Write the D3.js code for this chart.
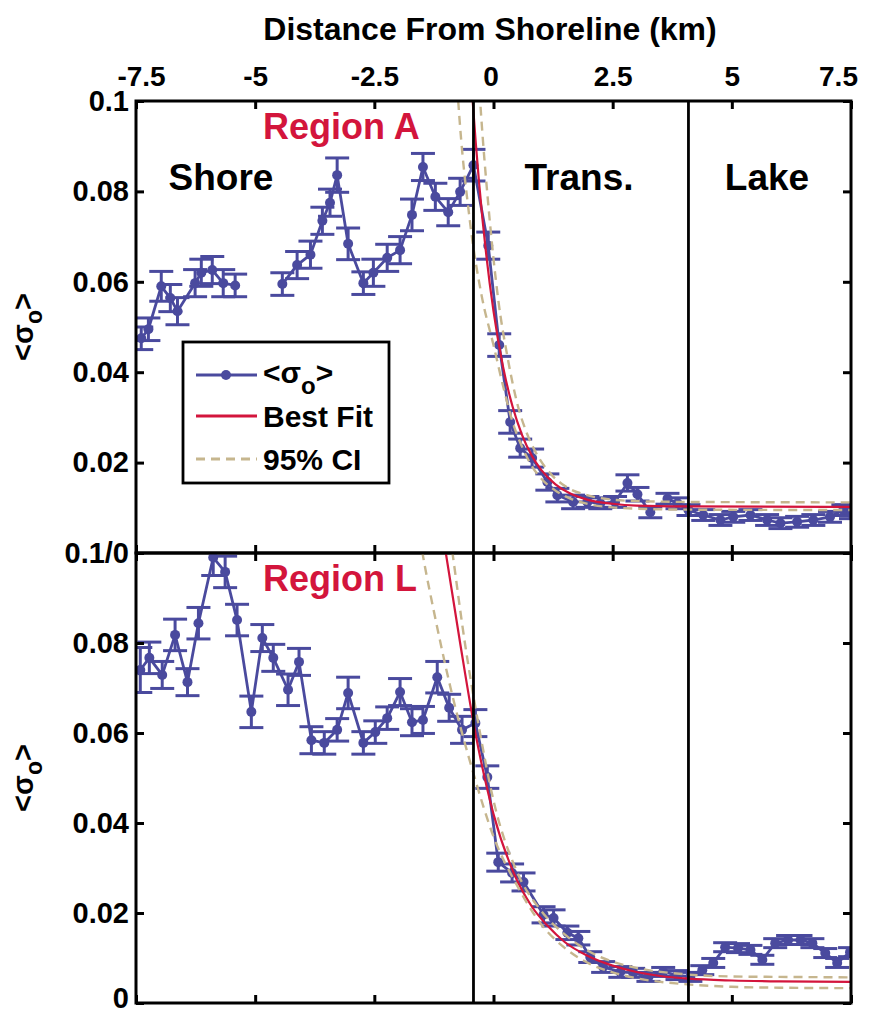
<!DOCTYPE html>
<html>
<head>
<meta charset="utf-8">
<script src="https://cdn.jsdelivr.net/npm/d3@7"></script>
<style>
  body { margin: 0; background: #fff; }
  svg text { font-family: "Liberation Sans", Arial, sans-serif; font-weight: bold; }
</style>
</head>
<body>
<svg id="chart" width="870" height="1017"></svg>
<script>
// ------------------------------------------
//  Data
// ------------------------------------------
const xTicks = [-7.5, -5, -2.5, 0, 2.5, 5, 7.5]
const yTicks = [0, 0.02, 0.04, 0.06, 0.08, 0.1]
const boundaries = [-0.42, 4.09]
const zones = ['Shore', 'Trans.', 'Lake']

// Region A
const distA = [-7.39, -7.24, -6.97, -6.78, -6.63, -6.26, -6.13, -5.90, -5.67, -5.42,
  -4.9, -4.43, -4.12, -3.84, -3.59, -3.43, -3.28, -3.05, -2.73, -2.52,
  -2.23, -1.96, -1.71, -1.48, -1.22, -0.95, -0.70, -0.42, -0.11, 0.12,
  0.35, 0.56, 0.81, 1.13, 1.34, 1.67, 1.97, 2.24, 2.55, 2.81,
  3.02, 3.29, 3.65, 3.86, 4.09, 4.40, 4.76, 5.03, 5.39, 5.74,
  6.02, 6.37, 6.71, 7.06, 7.34, 7.5]
const sigmaA = [0.0475, 0.0495, 0.0590, 0.0564, 0.0535, 0.0597, 0.0620, 0.0626, 0.0597, 0.0592,
  null, 0.0595, 0.0637, 0.0660, 0.0735, 0.0775, 0.0836, 0.0684, 0.0597, 0.0620,
  0.0653, 0.0670, 0.0748, 0.0854, 0.0788, 0.0754, 0.0799, 0.0858, 0.0680, 0.0460,
  0.0290, 0.0232, 0.0210, 0.0157, 0.0128, 0.0113, 0.0113, 0.0110, 0.0113, 0.0155,
  0.0130, 0.0090, 0.0120, 0.0110, 0.0095, 0.0084, 0.0073, 0.0080, 0.0084, 0.0073,
  0.0066, 0.0069, 0.0073, 0.0080, 0.0095, 0.0088]
const errA = [0.0025, 0.0025, 0.0033, 0.003, 0.003, 0.003, 0.003, 0.003, 0.003, 0.0025,
  0, 0.0025, 0.003, 0.003, 0.003, 0.003, 0.0038, 0.0035, 0.0025, 0.003,
  0.003, 0.003, 0.0035, 0.003, 0.003, 0.003, 0.003, 0.0035, 0.003, 0.0025,
  0.0025, 0.002, 0.002, 0.0018, 0.0015, 0.0015, 0.0012, 0.0012, 0.0012, 0.0018,
  0.0015, 0.0012, 0.0012, 0.0012, 0.0012, 0.0012, 0.0012, 0.0012, 0.0012, 0.0012,
  0.0012, 0.0012, 0.0012, 0.0012, 0.0012, 0.0012]
const fitA = [[-0.55, 0.119], [-0.45, 0.102], [-0.3, 0.0816], [-0.15, 0.0658], [0, 0.0535],
  [0.2, 0.0412], [0.4, 0.0324], [0.6, 0.0261], [0.8, 0.0216], [1.0, 0.0184], [1.3, 0.0152],
  [1.6, 0.0132], [2.0, 0.0117], [2.5, 0.0109], [3.0, 0.0105], [4.0, 0.0103], [7.5, 0.0102]]
const ciLowA = [[-0.8, 0.11], [-0.74, 0.1], [-0.49, 0.073], [-0.25, 0.057], [0, 0.046],
  [0.2, 0.037], [0.4, 0.029], [0.6, 0.0235], [0.8, 0.0193], [1.0, 0.0165], [1.3, 0.0138],
  [1.6, 0.0121], [2.0, 0.0108], [2.5, 0.0101], [3.0, 0.0098], [4.0, 0.0096], [7.5, 0.0095]]
const ciHighA = [[-0.35, 0.112], [-0.28, 0.1], [-0.1, 0.076], [0.1, 0.056], [0.3, 0.043],
  [0.5, 0.033], [0.7, 0.0265], [0.9, 0.022], [1.2, 0.0175], [1.5, 0.0148], [2.0, 0.0127],
  [2.5, 0.0118], [3.0, 0.0115], [4.0, 0.0113], [7.5, 0.0112]]

// Region L
const distL = [-7.41, -7.22, -6.95, -6.68, -6.42, -6.19, -5.88, -5.63, -5.38, -5.08,
  -4.85, -4.62, -4.31, -4.08, -3.82, -3.55, -3.28, -3.05, -2.73, -2.48,
  -2.23, -1.96, -1.71, -1.48, -1.18, -0.93, -0.66, -0.38, -0.13, 0.10,
  0.39, 0.63, 1.05, 1.26, 1.55, 1.78, 2.03, 2.30, 2.66, 2.93,
  3.25, 3.56, 3.86, 4.13, 4.38, 4.61, 4.86, 5.13, 5.39, 5.64,
  5.91, 6.18, 6.44, 6.69, 6.96, 7.21, 7.48]
const sigmaL = [0.0740, 0.0767, 0.0729, 0.0818, 0.0713, 0.0844, 0.0990, 0.0958, 0.0851, 0.0647,
  0.0811, 0.0767, 0.0696, 0.0758, 0.0584, 0.0578, 0.0607, 0.0689, 0.0578, 0.0602,
  0.0633, 0.0691, 0.0624, 0.0629, 0.0724, 0.0656, 0.0607, 0.0622, 0.0502, 0.0313,
  0.0289, 0.0269, 0.0196, 0.0189, 0.0156, 0.0144, 0.0102, 0.0080, 0.0069, 0.0067,
  0.0058, 0.0069, 0.0062, 0.0058, 0.0073, 0.0089, 0.0124, 0.0122, 0.0118, 0.0096,
  0.0133, 0.0140, 0.0140, 0.0133, 0.0111, 0.0089, 0.0113]
const errL = [0.005, 0.0035, 0.003, 0.0035, 0.003, 0.0035, 0.004, 0.0035, 0.0035, 0.0035,
  0.003, 0.003, 0.0035, 0.003, 0.003, 0.0025, 0.0025, 0.0035, 0.0025, 0.0025,
  0.0025, 0.003, 0.003, 0.003, 0.0035, 0.003, 0.003, 0.003, 0.0025, 0.002,
  0.002, 0.002, 0.0018, 0.0018, 0.0015, 0.0015, 0.0012, 0.0012, 0.0012, 0.001,
  0.001, 0.001, 0.001, 0.001, 0.001, 0.001, 0.001, 0.001, 0.001, 0.001,
  0.001, 0.001, 0.001, 0.001, 0.001, 0.001, 0.001]
const fitL = [[-1.1, 0.107], [-1.0, 0.1], [-0.7, 0.08], [-0.38, 0.06], [0, 0.042], [0.42, 0.029],
  [0.8, 0.0215], [1.13, 0.0172], [1.5, 0.0135], [1.97, 0.0105], [2.5, 0.0083], [3.0, 0.0069],
  [3.5, 0.006], [4.1, 0.0054], [5.0, 0.005], [6.0, 0.0048], [7.5, 0.0047]]
const ciLowL = [[-1.6, 0.107], [-1.49, 0.1], [-1.25, 0.087], [-0.9, 0.07], [-0.42, 0.051],
  [0, 0.037], [0.5, 0.026], [1.0, 0.0175], [1.5, 0.0122], [2.0, 0.0088], [2.5, 0.0068],
  [3.0, 0.0055], [4.0, 0.0042], [5.0, 0.0036], [6.0, 0.0034], [7.5, 0.0033]]
const ciHighL = [[-0.95, 0.107], [-0.86, 0.1], [-0.6, 0.08], [-0.3, 0.061], [0, 0.045],
  [0.5, 0.029], [1.0, 0.0205], [1.5, 0.0152], [2.0, 0.0115], [2.5, 0.0092], [3.0, 0.0078],
  [4.0, 0.0064], [5.0, 0.0059], [6.0, 0.0058], [7.5, 0.0057]]

// ------------------------------------------
//  Layout / style
// ------------------------------------------
const BLUE = '#4a4a9e', RED = '#d3153c', TAN = '#c6b68e'
const svg = d3.select('#chart')
const left = 136, right = 851
const x = d3.scaleLinear().domain([-7.5, 7.5]).range([left, right])

const panels = [
  { id: 'A', top: 101, bottom: 553, dist: distA, sigma: sigmaA, err: errA,
    fit: fitA, ciLow: ciLowA, ciHigh: ciHighA, label: 'Region A',
    yFmt: d => d === 0 ? '' : (d === 0.1 ? '0.1' : d3.format('.2f')(d)) },
  { id: 'L', top: 553, bottom: 1003, dist: distL, sigma: sigmaL, err: errL,
    fit: fitL, ciLow: ciLowL, ciHigh: ciHighL, label: 'Region L',
    yFmt: d => d === 0 ? '0' : (d === 0.1 ? '0.1/0' : d3.format('.2f')(d)) }
]

// ------------------------------------------
//  Panel
// ------------------------------------------
function drawPanel(p, i) {
  const y = d3.scaleLinear().domain([0, 0.1]).range([p.bottom, p.top])
  const g = svg.append('g')

  g.append('clipPath').attr('id', 'clip' + p.id)
    .append('rect')
    .attr('x', left).attr('y', p.top)
    .attr('width', right - left).attr('height', p.bottom - p.top)

  const plot = g.append('g').attr('clip-path', `url(#clip${p.id})`)

  const pts = p.dist.map((d, k) => ({ x: d, y: p.sigma[k], e: p.err[k] }))

  // data line
  plot.append('path')
    .datum(pts)
    .attr('fill', 'none')
    .attr('stroke', BLUE)
    .attr('stroke-width', 2.8)
    .attr('d', d3.line().defined(d => d.y != null).x(d => x(d.x)).y(d => y(d.y)))

  // error bars
  const eb = plot.selectAll('.eb').data(pts.filter(d => d.y != null))
    .enter().append('g').attr('class', 'eb')
    .attr('stroke', BLUE).attr('stroke-width', 3)
  eb.append('line')
    .attr('x1', d => x(d.x)).attr('x2', d => x(d.x))
    .attr('y1', d => y(d.y - d.e)).attr('y2', d => y(d.y + d.e))
  eb.append('line')
    .attr('x1', d => x(d.x) - 12).attr('x2', d => x(d.x) + 12)
    .attr('y1', d => y(d.y - d.e)).attr('y2', d => y(d.y - d.e))
  eb.append('line')
    .attr('x1', d => x(d.x) - 12).attr('x2', d => x(d.x) + 12)
    .attr('y1', d => y(d.y + d.e)).attr('y2', d => y(d.y + d.e))

  plot.selectAll('.dot').data(pts.filter(d => d.y != null))
    .enter().append('circle')
    .attr('class', 'dot')
    .attr('cx', d => x(d.x)).attr('cy', d => y(d.y))
    .attr('r', 5).attr('fill', BLUE)

  const curve = d3.line().x(d => x(d[0])).y(d => y(d[1])).curve(d3.curveMonotoneX)

  plot.append('path').datum(p.fit)
    .attr('fill', 'none').attr('stroke', RED).attr('stroke-width', 2.2)
    .attr('d', curve)

  ;[p.ciLow, p.ciHigh].forEach(c => {
    plot.append('path').datum(c)
      .attr('fill', 'none').attr('stroke', TAN).attr('stroke-width', 2.4)
      .attr('stroke-dasharray', '9,6')
      .attr('d', curve)
  })

  // zone boundaries
  g.selectAll('.bound').data(boundaries)
    .enter().append('line')
    .attr('x1', d => x(d)).attr('x2', d => x(d))
    .attr('y1', p.top).attr('y2', p.bottom)
    .attr('stroke', '#000').attr('stroke-width', 2.8)

  // axes (ticks point inward)
  const axes = [
    g.append('g').attr('class', 'xtop').attr('transform', `translate(0,${p.top})`)
      .call(d3.axisTop(x).tickValues(xTicks).tickSize(-8).tickPadding(15)
        .tickFormat(i === 0 ? (d => String(d)) : () => '')),
    g.append('g').attr('transform', `translate(0,${p.bottom})`)
      .call(d3.axisBottom(x).tickValues(xTicks).tickSize(-8).tickFormat(() => '')),
    g.append('g').attr('class', 'yleft').attr('transform', `translate(${left},0)`)
      .call(d3.axisLeft(y).tickValues(yTicks).tickSize(-8).tickPadding(7).tickFormat(p.yFmt)),
    g.append('g').attr('transform', `translate(${right},0)`)
      .call(d3.axisRight(y).tickValues(yTicks).tickSize(-8).tickFormat(() => ''))
  ]
  axes.forEach(a => {
    a.select('.domain').remove()
    a.selectAll('.tick line').attr('stroke', '#000').attr('stroke-width', 3)
    a.selectAll('.tick text').attr('fill', '#000').attr('font-size', 29)
      .attr('font-family', '"Liberation Sans", Arial, sans-serif').attr('font-weight', 'bold')
  })
  // pull the end labels of the top axis inward, as in the figure
  g.select('.xtop').selectAll('.tick text')
    .attr('font-size', 28)
    .attr('dx', d => d === -7.5 ? 5 : (d === 7.5 ? -13 : (d === 0 ? -3 : 0)))
  // keep the bottom "0" inside the picture
  g.select('.yleft').selectAll('.tick text')
    .attr('dy', d => (i === 1 && d === 0) ? '0.15em' : '0.32em')

  g.append('rect')
    .attr('x', left).attr('y', p.top)
    .attr('width', right - left).attr('height', p.bottom - p.top)
    .attr('fill', 'none').attr('stroke', '#000').attr('stroke-width', 3)

  g.append('text')
    .attr('x', 263).attr('y', p.top + 38)
    .attr('font-size', 36).attr('fill', RED)
    .text(p.label)

  // y label <σo>
  const yl = g.append('text')
    .attr('transform', `translate(33,${(p.top + p.bottom) / 2}) rotate(-90)`)
    .attr('text-anchor', 'middle').attr('font-size', 29)
  yl.append('tspan').text('<σ')
  yl.append('tspan').attr('font-size', 23).attr('dy', 9).text('o')
  yl.append('tspan').attr('dy', -9).text('>')

  return y
}

panels.forEach(drawPanel)

// ------------------------------------------
//  Titles and zone labels
// ------------------------------------------
svg.append('text')
  .attr('x', 490).attr('y', 40)
  .attr('text-anchor', 'middle').attr('font-size', 32)
  .text('Distance From Shoreline (km)')

const zoneX = [221, 579, 767]
svg.selectAll('.zone').data(zones)
  .enter().append('text')
  .attr('class', 'zone')
  .attr('x', (d, k) => zoneX[k]).attr('y', 190)
  .attr('text-anchor', 'middle').attr('font-size', 37)
  .text(d => d)

// ------------------------------------------
//  Legend
// ------------------------------------------
const leg = svg.append('g').attr('transform', 'translate(183,342)')
leg.append('rect').attr('width', 206).attr('height', 141)
  .attr('fill', '#fff').attr('stroke', '#000').attr('stroke-width', 2.8)

const rows = [
  { y: 33, stroke: BLUE, dash: null, dot: true },
  { y: 74, stroke: RED, dash: null, dot: false },
  { y: 117, stroke: TAN, dash: '9,6', dot: false }
]
rows.forEach(r => {
  leg.append('line').attr('x1', 13).attr('x2', 74).attr('y1', r.y).attr('y2', r.y)
    .attr('stroke', r.stroke).attr('stroke-width', 2.8)
    .attr('stroke-dasharray', r.dash)
  if (r.dot) leg.append('circle').attr('cx', 43).attr('cy', r.y).attr('r', 5).attr('fill', BLUE)
})
const t0 = leg.append('text').attr('x', 80).attr('y', 33 + 8).attr('font-size', 30)
t0.append('tspan').text('<σ')
t0.append('tspan').attr('font-size', 24).attr('dy', 11).text('o')
t0.append('tspan').attr('dy', -11).text('>')
leg.append('text').attr('x', 80).attr('y', 74 + 11).attr('font-size', 30).text('Best Fit')
leg.append('text').attr('x', 80).attr('y', 117 + 11).attr('font-size', 30).text('95% CI')
</script>
</body>
</html>
